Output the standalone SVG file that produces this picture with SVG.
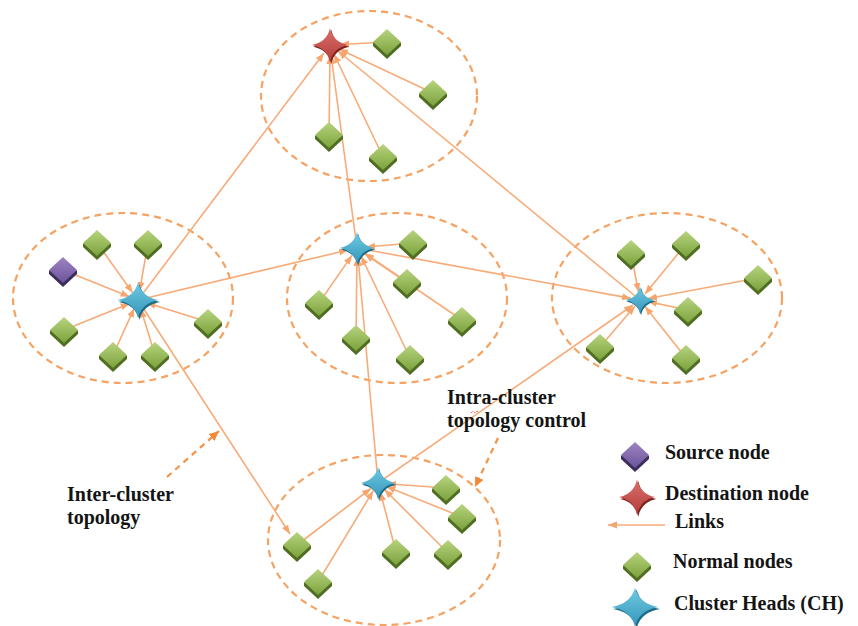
<svg xmlns="http://www.w3.org/2000/svg" xmlns:xlink="http://www.w3.org/1999/xlink" width="858" height="626" viewBox="0 0 858 626">
<style>
.cl{fill:none;stroke:#f5a262;stroke-width:2.2;stroke-dasharray:7 5}
.lk{stroke:#f7ab78;stroke-width:1.6;fill:none;marker-end:url(#ah)}
.dl{stroke:#f39348;stroke-width:2.2;stroke-dasharray:6 5;fill:none;marker-end:url(#dh)}
.tx{font-family:"Liberation Serif","Times New Roman",serif;font-weight:bold;font-size:20px;fill:#141414}
</style>
<defs>
<marker id="ah" markerUnits="userSpaceOnUse" markerWidth="10" markerHeight="8" refX="9" refY="3.5" orient="auto"><path d="M0,0 L9,3.5 L0,7 Z" fill="#f7a56c"/></marker>
<marker id="dh" markerUnits="userSpaceOnUse" markerWidth="12" markerHeight="10" refX="10" refY="4.5" orient="auto"><path d="M0,0 L10,4.5 L0,9 Z" fill="#f08a3a"/></marker>
<linearGradient id="gg" x1="0" y1="0" x2="0" y2="1"><stop offset="0" stop-color="#b8d47e"/><stop offset="1" stop-color="#7ba23d"/></linearGradient>
<linearGradient id="pg" x1="0" y1="0" x2="0" y2="1"><stop offset="0" stop-color="#9d85c2"/><stop offset="1" stop-color="#6c549c"/></linearGradient>
<linearGradient id="bg" x1="0" y1="0" x2="0" y2="1"><stop offset="0" stop-color="#6fcbe3"/><stop offset="1" stop-color="#3596b8"/></linearGradient>
<linearGradient id="rg" x1="0" y1="0" x2="0" y2="1"><stop offset="0" stop-color="#d9706b"/><stop offset="1" stop-color="#b43c38"/></linearGradient>
<g id="gd"><path d="M0,-12 L14,1 L14,4 L0,17 L-14,4 L-14,1 Z" fill="#4f6e22"/><path d="M0,-13 L14,0 L0,13 L-14,0 Z" fill="url(#gg)"/></g>
<g id="pd"><path d="M0,-12 L14,1 L14,4 L0,17 L-14,4 L-14,1 Z" fill="#3d2d5c"/><path d="M0,-13 L14,0 L0,13 L-14,0 Z" fill="url(#pg)"/></g>
<path id="st" d="M0,-17 Q3,-3 18,0 Q3,3 0,17 Q-3,3 -18,0 Q-3,-3 0,-17 Z"/>
<g id="bs"><use href="#st" x="1.2" y="1.8" fill="#1e6d88"/><use href="#st" fill="url(#bg)"/></g>
<g id="rs"><use href="#st" x="1.2" y="1.8" fill="#7c2320"/><use href="#st" fill="url(#rg)"/></g>
</defs>
<rect width="858" height="626" fill="#ffffff"/>
<g id="clusters">
<ellipse id="cluster-top" class="cl" cx="369" cy="96" rx="108" ry="85"/>
<ellipse id="cluster-left" class="cl" cx="123" cy="298" rx="110" ry="85"/>
<ellipse id="cluster-center" class="cl" cx="397" cy="298" rx="110" ry="85"/>
<ellipse id="cluster-right" class="cl" cx="667" cy="298" rx="115" ry="85"/>
<ellipse id="cluster-bottom" class="cl" cx="384" cy="540" rx="116" ry="85"/>
</g>
<g id="connectors">
<line class="lk" x1="387" y1="42" x2="340" y2="44.5"/>
<line class="lk" x1="433" y1="93" x2="339" y2="49"/>
<line class="lk" x1="329" y1="135" x2="330" y2="55"/>
<line class="lk" x1="383" y1="157" x2="334" y2="54"/>
<line class="lk" x1="138" y1="300" x2="324" y2="53"/>
<line class="lk" x1="357" y1="248" x2="331" y2="55"/>
<line class="lk" x1="640" y1="300" x2="338" y2="51"/>
<line class="lk" x1="63" y1="270" x2="129.6" y2="296.7"/>
<line class="lk" x1="97" y1="243" x2="132.7" y2="292.7"/>
<line class="lk" x1="148" y1="243" x2="139.6" y2="291.1"/>
<line class="lk" x1="64" y1="330" x2="129.7" y2="303.4"/>
<line class="lk" x1="208" y1="322" x2="146.6" y2="302.7"/>
<line class="lk" x1="113" y1="355" x2="134.3" y2="308.2"/>
<line class="lk" x1="155" y1="355" x2="140.7" y2="308.6"/>
<line class="lk" x1="138" y1="300" x2="348" y2="250"/>
<line class="lk" x1="138" y1="300" x2="290" y2="534"/>
<line class="lk" x1="413" y1="243" x2="366" y2="247"/>
<line class="lk" x1="407" y1="282" x2="364.4" y2="253"/>
<line class="lk" x1="319" y1="303" x2="351.9" y2="255.4"/>
<line class="lk" x1="462" y1="320" x2="365" y2="254"/>
<line class="lk" x1="356" y1="338" x2="357" y2="257"/>
<line class="lk" x1="410" y1="358" x2="361" y2="256"/>
<line class="lk" x1="378" y1="483" x2="358" y2="257"/>
<line class="lk" x1="357" y1="248" x2="631" y2="298.4"/>
<line class="lk" x1="631" y1="253" x2="638.5" y2="292"/>
<line class="lk" x1="686" y1="244" x2="645" y2="294"/>
<line class="lk" x1="758" y1="278" x2="648" y2="298.5"/>
<line class="lk" x1="688" y1="310" x2="648" y2="301.6"/>
<line class="lk" x1="600" y1="347" x2="635" y2="306"/>
<line class="lk" x1="686" y1="358" x2="645" y2="306.5"/>
<line class="lk" x1="378" y1="483" x2="633" y2="305"/>
<line class="lk" x1="446" y1="488" x2="387" y2="483.7"/>
<line class="lk" x1="462" y1="517" x2="386.3" y2="486.4"/>
<line class="lk" x1="297" y1="545" x2="370.9" y2="488.5"/>
<line class="lk" x1="396" y1="552" x2="380.3" y2="491.7"/>
<line class="lk" x1="448" y1="553" x2="384.4" y2="489.4"/>
<line class="lk" x1="318" y1="582" x2="373.3" y2="490.7"/>
<line class="dl" x1="167" y1="477" x2="219" y2="431"/>
<line class="dl" x1="498" y1="438" x2="475" y2="487"/>
<line class="lk" x1="665" y1="525" x2="608" y2="525"/>
</g>
<g id="ch-top"><use href="#rs" x="330" y="45"/></g>
<g id="n-top-1"><use href="#gd" x="387" y="42"/></g>
<g id="n-top-2"><use href="#gd" x="433" y="93"/></g>
<g id="n-top-3"><use href="#gd" x="329" y="135"/></g>
<g id="n-top-4"><use href="#gd" x="383" y="157"/></g>
<g id="source"><use href="#pd" x="63" y="270"/></g>
<g id="n-left-1"><use href="#gd" x="97" y="243"/></g>
<g id="n-left-2"><use href="#gd" x="148" y="243"/></g>
<g id="n-left-3"><use href="#gd" x="64" y="330"/></g>
<g id="n-left-4"><use href="#gd" x="208" y="322"/></g>
<g id="n-left-5"><use href="#gd" x="113" y="355"/></g>
<g id="n-left-6"><use href="#gd" x="155" y="355"/></g>
<g id="ch-left"><use href="#bs" transform="translate(138,300) scale(1.15,1.05)"/></g>
<g id="n-center-1"><use href="#gd" x="413" y="243"/></g>
<g id="n-center-2"><use href="#gd" x="407" y="282"/></g>
<g id="n-center-3"><use href="#gd" x="319" y="303"/></g>
<g id="n-center-4"><use href="#gd" x="462" y="320"/></g>
<g id="n-center-5"><use href="#gd" x="356" y="338"/></g>
<g id="n-center-6"><use href="#gd" x="410" y="358"/></g>
<g id="ch-center"><use href="#bs" transform="translate(357,248) scale(0.95)"/></g>
<g id="n-right-1"><use href="#gd" x="631" y="253"/></g>
<g id="n-right-2"><use href="#gd" x="686" y="244"/></g>
<g id="n-right-3"><use href="#gd" x="758" y="278"/></g>
<g id="n-right-4"><use href="#gd" x="688" y="310"/></g>
<g id="n-right-5"><use href="#gd" x="600" y="347"/></g>
<g id="n-right-6"><use href="#gd" x="686" y="358"/></g>
<g id="ch-right"><use href="#bs" transform="translate(640,300) scale(0.8)"/></g>
<g id="n-bottom-1"><use href="#gd" x="446" y="488"/></g>
<g id="n-bottom-2"><use href="#gd" x="462" y="517"/></g>
<g id="n-bottom-3"><use href="#gd" x="297" y="545"/></g>
<g id="n-bottom-4"><use href="#gd" x="396" y="552"/></g>
<g id="n-bottom-5"><use href="#gd" x="448" y="553"/></g>
<g id="n-bottom-6"><use href="#gd" x="318" y="582"/></g>
<g id="ch-bottom"><use href="#bs" transform="translate(378,483) scale(0.95)"/></g>
<g id="legend">
<use href="#pd" x="635" y="455"/>
<use href="#rs" transform="translate(637,497) scale(1,1.05)"/>
<use href="#gd" x="637" y="565"/>
<use href="#bs" transform="translate(635,607) scale(1.3,1.15)"/>
<text class="tx" x="665" y="459">Source node</text>
<text class="tx" x="665" y="500">Destination node</text>
<text class="tx" x="675" y="528">Links</text>
<text class="tx" x="673" y="568">Normal nodes</text>
<text class="tx" x="674" y="610">Cluster Heads (CH)</text>
</g>
<g id="labels">
<text class="tx" x="67" y="501">Inter-cluster</text>
<text class="tx" x="67" y="524">topology</text>
<text class="tx" x="447" y="404">Intra-cluster</text>
<text class="tx" x="447" y="427">topology control</text>
<path d="M471,413 q2,-3 4,0 q2,-3 4,0" fill="none" stroke="#e02020" stroke-width="1" stroke-dasharray="1 1"/>
</g>
</svg>
